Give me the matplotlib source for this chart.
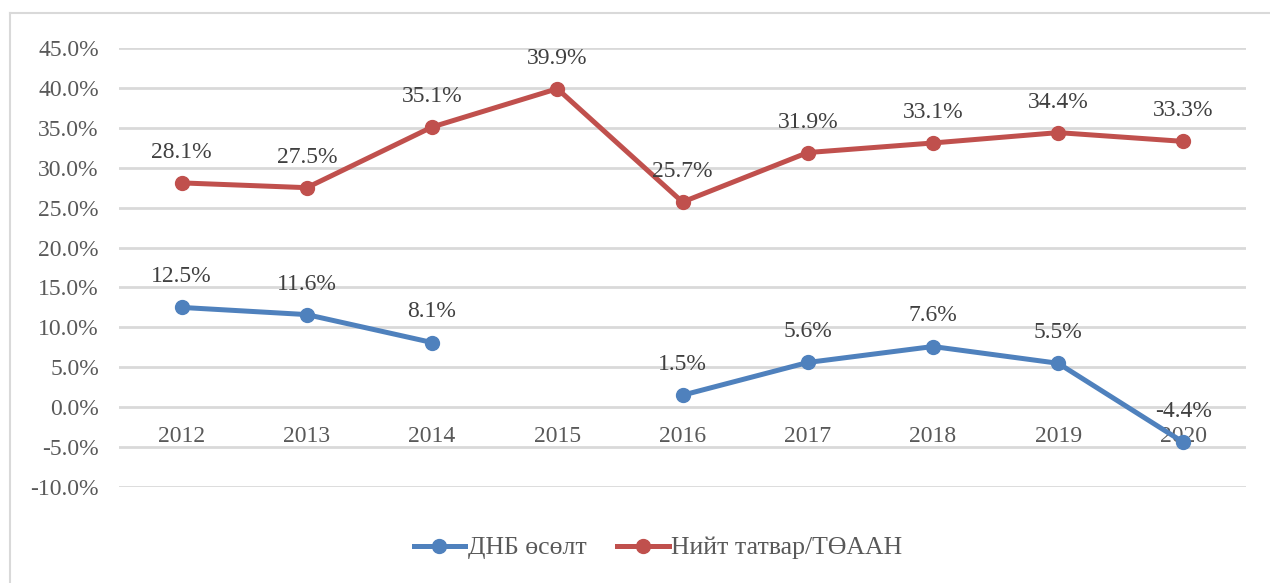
import matplotlib
matplotlib.use("Agg")
import matplotlib.pyplot as plt
from matplotlib.lines import Line2D
import numpy as np

years = ["2012", "2013", "2014", "2015", "2016", "2017", "2018", "2019", "2020"]
gdp_growth = [12.5, 11.6, 8.1, None, 1.5, 5.6, 7.6, 5.5, -4.4]
tax_ratio = [28.1, 27.5, 35.1, 39.9, 25.7, 31.9, 33.1, 34.4, 33.3]
series_names = ["ДНБ өсөлт", "Нийт татвар/ТӨААН"]
y_ticks = [-10, -5, 0, 5, 10, 15, 20, 25, 30, 35, 40, 45]

plt.rcParams['font.family'] = ['Liberation Serif', 'DejaVu Serif']
text_col = '#595959'
blue = '#4f81bd'
red = '#c0504d'

fig = plt.figure(figsize=(12.7, 5.83), dpi=100)
ax = fig.add_axes([119/1270, 1-487/583, (1246-119)/1270, (487-48)/583])

x = np.arange(len(years))
gdp = np.array([np.nan if v is None else v for v in gdp_growth], dtype=float)
tax = np.array(tax_ratio, dtype=float)

for vals, col in [(gdp, blue), (tax, red)]:
    ax.plot(x, vals, color=col, lw=3.6, marker='o', ms=10, zorder=3,
            solid_capstyle='round')
    for xi, v in zip(x, vals):
        if np.isnan(v):
            continue
        ax.annotate(f"{v:.1f}%", (xi, v), xytext=(0, 22), textcoords='offset points',
                    ha='center', va='center', fontsize=17, color='#404040', zorder=4)

ax.set_xlim(-0.5, len(years) - 0.5)
ax.set_ylim(-10, 45)
ax.set_yticks(y_ticks)
ax.set_yticklabels([f"{t:.1f}%" for t in y_ticks], fontsize=17, color=text_col)
ax.tick_params(axis='y', length=0, pad=14.5)
ax.set_xticks([])
ax.grid(axis='y', color='#d9d9d9', lw=2)
ax.set_axisbelow(True)
for s in ax.spines.values():
    s.set_visible(False)

# category labels sit just under the zero line
for xi, lab in zip(x, years):
    ax.annotate(lab, (xi, 0), xytext=(0, -21), textcoords='offset points',
                ha='center', va='center', fontsize=17, color=text_col, zorder=2)

handles = [Line2D([0], [0], color=blue, lw=3.6, marker='o', ms=10),
           Line2D([0], [0], color=red, lw=3.6, marker='o', ms=10)]
fig.legend(handles, series_names, loc='center', bbox_to_anchor=(658/1270, 1-548/583),
           ncol=2, frameon=False, fontsize=18.5, handlelength=2.0, handletextpad=0.1,
           columnspacing=1.2, labelcolor=text_col)

# chart border (only top and left visible in the crop)
fig.add_artist(Line2D([10/1270, 1], [1-13/583]*2, color='#d9d9d9', lw=1.5))
fig.add_artist(Line2D([10/1270]*2, [0, 1-13/583], color='#d9d9d9', lw=1.5))

fig.savefig("out.png", dpi=100)
